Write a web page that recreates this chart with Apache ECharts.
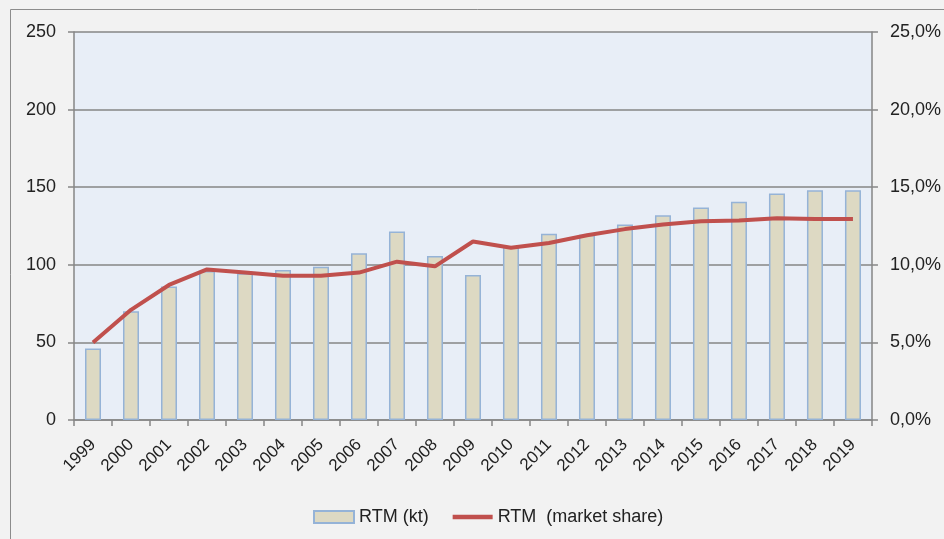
<!DOCTYPE html>
<html><head><meta charset="utf-8">
<script src="https://cdn.jsdelivr.net/npm/echarts@6/dist/echarts.min.js"></script>
<style>html,body{margin:0;padding:0;background:#f2f2f2;}#c{width:944px;height:539px;}</style>
</head><body><div id="c"></div>
<script>
const years = ['1999','2000','2001','2002','2003','2004','2005','2006','2007','2008','2009','2010','2011','2012','2013','2014','2015','2016','2017','2018','2019'];
const rtmKt = [46, 70, 86, 96, 94.5, 96.6, 98.8, 107.5, 121.5, 105.7, 93.5, 112, 120, 119.3, 126, 132, 137, 140.7, 146, 148, 148];
const rtmShare = [5.0, 7.1, 8.7, 9.7, 9.5, 9.3, 9.3, 9.5, 10.2, 9.9, 11.5, 11.1, 11.4, 11.9, 12.3, 12.6, 12.8, 12.85, 13.0, 12.95, 12.95];
const leftTicks = [0, 250, 50];
const rightTicks = [0, 25, 5];
const font = 'Liberation Sans, Arial, sans-serif';
const chart = echarts.init(document.getElementById('c'));
chart.setOption({
  backgroundColor: '#f2f2f2',
  animation: false,
  textStyle: {fontFamily: font},
  graphic: [{type:'rect', shape:{x:10.5, y:9.5, width:950, height:560}, style:{fill:'none', stroke:'#8c8c8c', lineWidth:1}, z:-1}],
  grid: {left:74, right:70, top:32, bottom:119, show:true, backgroundColor:'#e8eef7', borderWidth:0},
  legend: {
    top: 503, left: 308, itemGap: 24, itemWidth: 40, itemHeight: 12,
    textStyle: {fontSize: 18, color:'#222', fontFamily: font},
    data: [{name:'RTM (kt)', icon:'rect'}, {name:'RTM  (market share)', icon:'path://M0,0h40v4.5h-40z'}]
  },
  xAxis: {
    type:'category', data: years, boundaryGap: true,
    axisLine:{lineStyle:{color:'#868686', width:1.5}},
    axisTick:{show:true, length:6, lineStyle:{color:'#868686', width:1.5}},
    axisLabel:{rotate:45, fontSize:17, color:'#222', margin:22, interval:0}
  },
  yAxis: [{
    type:'value', min:leftTicks[0], max:leftTicks[1], interval:leftTicks[2],
    axisLine:{show:true, lineStyle:{color:'#868686', width:1.5}},
    axisTick:{show:true, length:6, lineStyle:{color:'#868686', width:1.5}},
    splitLine:{lineStyle:{color:'#868686', width:1.5}},
    axisLabel:{fontSize:18, color:'#222', margin:18}
  },{
    type:'value', position:'right', min:rightTicks[0], max:rightTicks[1], interval:rightTicks[2],
    axisLine:{show:true, lineStyle:{color:'#868686', width:1.5}},
    axisTick:{show:true, length:6, lineStyle:{color:'#868686', width:1.5}},
    splitLine:{show:false},
    axisLabel:{fontSize:18, color:'#222', margin:18, formatter: v => v.toFixed(1).replace('.', ',') + '%'}
  }],
  series: [{
    name:'RTM (kt)', type:'bar', data: rtmKt, barWidth: 16,
    itemStyle:{color:'#ddd9c3', borderColor:'#95b3d7', borderWidth:1.5}
  },{
    name:'RTM  (market share)', type:'line', yAxisIndex:1, data: rtmShare,
    symbol:'none', lineStyle:{color:'#c0504d', width:4}, itemStyle:{color:'#c0504d'}
  }]
});
</script></body></html>
